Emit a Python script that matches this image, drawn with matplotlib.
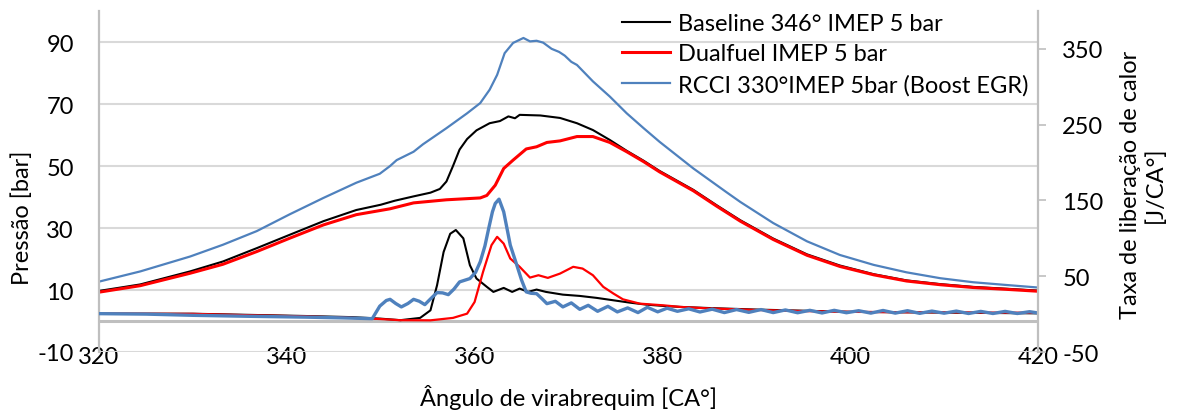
import matplotlib.pyplot as plt

plt.rcParams['font.family'] = ['Lato', 'DejaVu Sans']
plt.rcParams['font.size'] = 17
plt.rcParams['axes.unicode_minus'] = False

# crank angle [CA deg] and cylinder pressure [bar]
ca_p_base = [320, 324.4, 329.7, 333.2, 336.8, 340.3, 343.9, 347.4, 350.0, 351.5, 353.5, 355.3,
             356.3, 357.0, 357.7, 358.4, 359.2, 360.2, 361.6, 362.7, 363.6, 364.3, 364.8, 367.0,
             369.1, 370.9, 372.6, 374.4, 376.2, 378.0, 379.7, 383.3, 385.8, 388.3, 391.8, 395.4,
             398.9, 402.5, 406.0, 409.6, 413.1, 416.7, 420]
p_base = [9.7, 11.8, 16.0, 19.2, 23.5, 27.8, 32.2, 35.8, 37.5, 38.8, 40.2, 41.4,
          42.6, 45.0, 50.0, 55.3, 58.7, 61.5, 63.8, 64.5, 66.0, 65.4, 66.5, 66.3,
          65.5, 63.8, 61.6, 58.4, 54.9, 51.7, 48.4, 42.3, 37.3, 32.5, 26.6, 21.5,
          17.9, 15.1, 13.1, 11.9, 11.0, 10.4, 9.8]

ca_p_dual = [320, 324.4, 329.7, 333.2, 336.8, 340.3, 343.9, 347.4, 351.0, 353.5, 357.0, 360.6,
             361.3, 362.2, 363.1, 364.1, 365.5, 366.6, 367.7, 369.1, 370.9, 372.6, 374.4, 376.2,
             378.0, 379.7, 383.3, 385.8, 388.3, 391.8, 395.4, 398.9, 402.5, 406.0, 409.6, 413.1,
             416.7, 420]
p_dual = [9.3, 11.4, 15.4, 18.3, 22.4, 26.7, 31.0, 34.3, 36.2, 38.1, 39.1, 39.7,
          40.5, 43.8, 49.2, 51.9, 55.5, 56.2, 57.6, 58.1, 59.5, 59.5, 57.6, 54.6,
          51.4, 48.1, 42.0, 37.0, 32.2, 26.3, 21.2, 17.6, 14.9, 12.9, 11.7, 10.8,
          10.2, 9.6]

ca_p_rcci = [320, 324.4, 329.7, 333.2, 336.8, 340.3, 343.9, 347.4, 349.9, 351.0, 351.7, 353.5,
             354.5, 357.0, 359.2, 360.6, 361.6, 362.4, 363.2, 364.1, 365.2, 365.9, 366.6, 367.3,
             368.2, 369.0, 369.6, 370.3, 370.9, 372.6, 374.4, 376.2, 378.0, 379.7, 383.3, 386.8,
             388.3, 391.8, 395.4, 398.9, 402.5, 406.0, 409.6, 413.1, 416.7, 420]
p_rcci = [12.7, 16.0, 20.8, 24.6, 29.0, 34.4, 39.7, 44.6, 47.5, 50.0, 51.9, 54.6,
          57.0, 62.2, 67.0, 70.3, 74.6, 79.4, 86.4, 89.7, 91.3, 90.2, 90.4, 89.8,
          87.8, 86.8, 85.6, 83.6, 82.6, 77.3, 72.4, 67.0, 62.2, 57.8, 49.2, 41.6,
          38.4, 31.6, 25.7, 21.3, 18.1, 15.7, 13.8, 12.5, 11.6, 10.8]

# heat release rate [J/CA deg]
ca_h_base = [320, 330, 336, 342, 347, 350, 352.1, 354.2, 355.3, 356.0, 356.7, 357.4, 358.0,
             358.8, 359.5, 360.2, 361.3, 362.0, 363.1, 364.0, 364.8, 365.7, 366.6, 367.6, 369.4,
             371.2, 373.0, 374.8, 376.5, 378.3, 380.1, 381.9, 385, 390, 395, 400, 405, 410, 415, 420]
h_base = [0.6, 0.5, -1.0, -2.5, -4.0, -6.0, -8.0, -5.0, 5.0, 38.0, 82.0, 106.0, 111.0,
          100.0, 64.5, 47.0, 36.0, 29.3, 34.6, 29.3, 33.7, 29.3, 32.4, 29.3, 25.7,
          24.0, 21.4, 18.2, 15.2, 12.5, 10.8, 9.5, 8.0, 6.0, 4.5, 3.0, 2.5, 2.0, 1.5, 1.0]

ca_h_dual = [320, 330, 336, 342, 347, 350, 352, 355.3, 357.7, 359.2, 360.0, 360.9, 361.8,
             362.4, 363.1, 363.8, 364.8, 365.9, 366.8, 367.8, 369.1, 370.5, 371.5, 372.6, 373.7,
             374.8, 375.8, 377.6, 380.1, 381.9, 385, 390, 395, 400, 405, 410, 415, 420]
h_dual = [0.6, 0.3, -1.5, -3.0, -5.0, -6.5, -8.0, -8.2, -5.0, 0.6, 16.0, 55.7, 91.0,
          102.0, 93.0, 73.3, 62.4, 48.2, 51.3, 47.8, 53.5, 62.4, 60.1, 51.3, 36.0,
          27.0, 19.5, 13.8, 11.6, 9.5, 7.5, 5.5, 4.0, 3.0, 2.5, 2.5, 2.0, 1.8]

ca_h_rcci = [320, 325, 330, 336, 342, 346, 349.1, 349.9, 350.6, 351.0, 351.6, 352.2, 352.9,
             353.5, 354.1, 354.7, 355.3, 356.0, 356.6, 357.2, 357.8, 358.4, 359.5, 360.1, 360.6,
             361.1, 361.5, 361.9, 362.2, 362.6, 363.1, 363.5, 363.8, 364.5, 365.0, 365.5, 366.0,
             366.6, 367.2, 367.7, 368.6, 369.4, 370.3, 371.2, 372.1, 373.1, 374.2, 375.2, 376.3,
             377.4, 378.4, 379.5, 380.5, 381.6, 382.8, 384.0, 385.3, 386.6, 387.9, 389.2, 390.5,
             391.8, 393.1, 394.4, 395.7, 397.0, 398.3, 399.6, 400.9, 402.2, 403.5, 404.8, 406.1,
             407.4, 408.7, 410.0, 411.3, 412.6, 413.9, 415.2, 416.5, 417.8, 419.1, 420]
h_rcci = [0.6, 0.0, -1.6, -2.9, -4.0, -5.0, -6.0, 10.5, 18.0, 19.5, 14.0, 9.5, 14.0,
          19.5, 17.0, 12.5, 20.0, 28.4, 28.0, 25.7, 33.0, 42.5, 46.9, 55.0, 69.0,
          90.0, 113.0, 135.0, 146.0, 151.7, 135.0, 110.0, 91.0, 64.5, 45.0, 29.3, 27.5,
          27.0, 20.0, 13.8, 16.9, 9.5, 14.8, 6.3, 11.6, 3.7, 10.3, 2.9, 8.2,
          2.0, 9.0, 3.0, 7.8, 3.7, 7.0, 2.8, 6.5, 2.0, 6.0, 2.3, 6.0,
          2.0, 5.5, 1.8, 5.0, 1.5, 5.0, 1.8, 4.5, 1.3, 4.8, 1.3, 4.5,
          1.0, 4.0, 1.2, 4.0, 0.8, 3.6, 0.8, 3.6, 0.8, 3.2, 1.5]

labels = ['Baseline 346° IMEP 5 bar', 'Dualfuel IMEP 5 bar', 'RCCI 330°IMEP 5bar (Boost EGR)']
c_black, c_red, c_blue = 'black', '#FF0000', '#4F81BD'
grey = '#BFBFBF'

fig = plt.figure(figsize=(11.8, 4.14), dpi=100)
ax = fig.add_axes([99 / 1180, 1 - 353 / 414, 939 / 1180, 341 / 414])
ax2 = ax.twinx()

# pressure
l1, = ax.plot(ca_p_base, p_base, color=c_black, lw=1.5, label=labels[0])
l2, = ax.plot(ca_p_dual, p_dual, color=c_red, lw=2.2, label=labels[1])
l3, = ax.plot(ca_p_rcci, p_rcci, color=c_blue, lw=1.6, label=labels[2])
ax.axhline(0, color=grey, lw=2.2, zorder=1)

# heat release
ax2.plot(ca_h_base, h_base, color=c_black, lw=1.5)
ax2.plot(ca_h_dual, h_dual, color=c_red, lw=1.6)
ax2.plot(ca_h_rcci, h_rcci, color=c_blue, lw=2.4)

ax.set_xlim(320, 420)
ax.set_xticks(range(320, 421, 20))
ax.set_ylim(-10, 100)
ax.set_yticks([-10, 10, 30, 50, 70, 90])
ax2.set_ylim(-50, 400)
ax2.set_yticks([-50, 50, 150, 250, 350])

ax.yaxis.grid(True, color='#D9D9D9', lw=1.5)
ax.set_axisbelow(True)

for s in ['top', 'bottom', 'right']:
    ax.spines[s].set_visible(False)
for s in ['top', 'bottom', 'left']:
    ax2.spines[s].set_visible(False)
ax.spines['left'].set_color(grey)
ax.spines['left'].set_linewidth(1.6)
ax2.spines['right'].set_color(grey)
ax2.spines['right'].set_linewidth(1.6)

ax.tick_params(axis='y', length=0, pad=18)
ax.tick_params(axis='x', length=0, pad=-4)
ax2.tick_params(axis='y', length=5.5, width=1.2, color=grey, pad=12)

ax.set_xlabel('Ângulo de virabrequim [CA°]')
ax.xaxis.set_label_coords(0.5, -0.093)
ax.set_ylabel('Pressão [bar]')
ax.yaxis.set_label_coords(-0.070, 0.397)
ax2.set_ylabel('Taxa de liberação de calor\n[J/CA°]', multialignment='center')
ax2.yaxis.set_label_coords(1.087, 0.494)

fig.legend(handles=[l1, l2, l3], loc='upper left', bbox_to_anchor=(622 / 1180, 1 - 14 / 414),
           frameon=False, borderpad=0, borderaxespad=0, handlelength=2.05,
           handletextpad=0.33, labelspacing=0.4)

fig.savefig('out.png', dpi=100)
